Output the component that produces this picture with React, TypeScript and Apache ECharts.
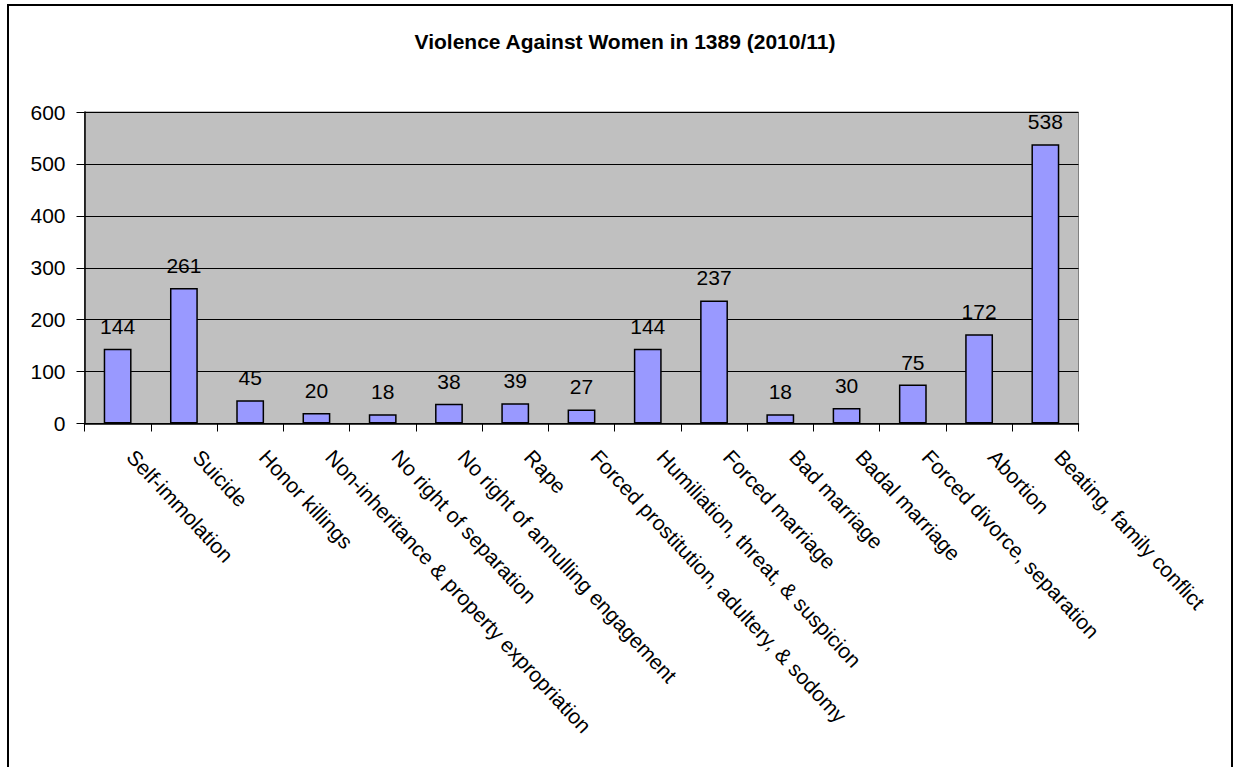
import React, { useEffect, useRef } from "react";
import * as echarts from "echarts";

const titleText = "Violence Against Women in 1389 (2010/11)";
const categories = [
  "Self-immolation",
  "Suicide",
  "Honor killings",
  "Non-inheritance & property expropriation",
  "No right of separation",
  "No right of annulling engagement",
  "Rape",
  "Forced prostitution, adultery, & sodomy",
  "Humiliation, threat, & suspicion",
  "Forced marriage",
  "Bad marriage",
  "Badal marriage",
  "Forced divorce, separation",
  "Abortion",
  "Beating, family conflict",
];
const values = [144, 261, 45, 20, 18, 38, 39, 27, 144, 237, 18, 30, 75, 172, 538];
const yMin = 0;
const yMax = 600;
const yStep = 100;

const FONT = "'Liberation Sans', Arial, sans-serif";

export default function App() {
  const ref = useRef<HTMLDivElement>(null);
  useEffect(() => {
    if (!ref.current) return;
    const chart = echarts.init(ref.current, undefined, { renderer: "svg" });
    chart.setOption({
      animation: false,
      backgroundColor: "#ffffff",
      title: {
        text: titleText,
        left: 620,
        textAlign: "center",
        top: 26,
        textStyle: { fontFamily: FONT, fontSize: 21, fontWeight: "bold", color: "#000" },
      },
      graphic: [
        {
          type: "rect",
          shape: { x: 8, y: 5, width: 1224, height: 800 },
          style: { fill: "none", stroke: "#000", lineWidth: 2 },
          silent: true,
        },
      ],
      grid: {
        left: 84.5,
        top: 112,
        right: 1236 - 1078.5,
        bottom: 767 - 423.5,
        show: true,
        backgroundColor: "#C0C0C0",
        borderColor: "#808080",
        borderWidth: 1,
      },
      xAxis: {
        type: "category",
        data: categories,
        boundaryGap: true,
        axisLine: { show: true, lineStyle: { color: "#000", width: 1.5 } },
        axisTick: { show: true, inside: false, length: 8, lineStyle: { color: "#000", width: 1 } },
        axisLabel: {
          interval: 0,
          rotate: -47,
          margin: 31,
          verticalAlign: "bottom",
          padding: [0, 0, 0, 8],
          fontFamily: FONT,
          fontSize: 21,
          color: "#000",
        },
        splitLine: { show: false },
      },
      yAxis: {
        type: "value",
        min: yMin,
        max: yMax,
        interval: yStep,
        axisLine: { show: true, lineStyle: { color: "#000", width: 1.5 } },
        axisTick: { show: true, inside: false, length: 8, lineStyle: { color: "#000", width: 1 } },
        axisLabel: { margin: 19, fontFamily: FONT, fontSize: 21, color: "#000" },
        splitLine: { show: true, lineStyle: { color: "#000", width: 1 } },
      },
      series: [
        {
          type: "bar",
          data: values,
          barCategoryGap: "58%",
          itemStyle: { color: "#9999FF", borderColor: "#000", borderWidth: 1.5 },
          label: {
            show: true,
            position: "top",
            distance: 12,
            fontFamily: FONT,
            fontSize: 21,
            color: "#000",
          },
        },
      ],
    });
    return () => chart.dispose();
  }, []);
  return (
    <div
      ref={ref}
      style={{ position: "fixed", left: 0, top: 0, width: 1236, height: 767 }}
    />
  );
}
